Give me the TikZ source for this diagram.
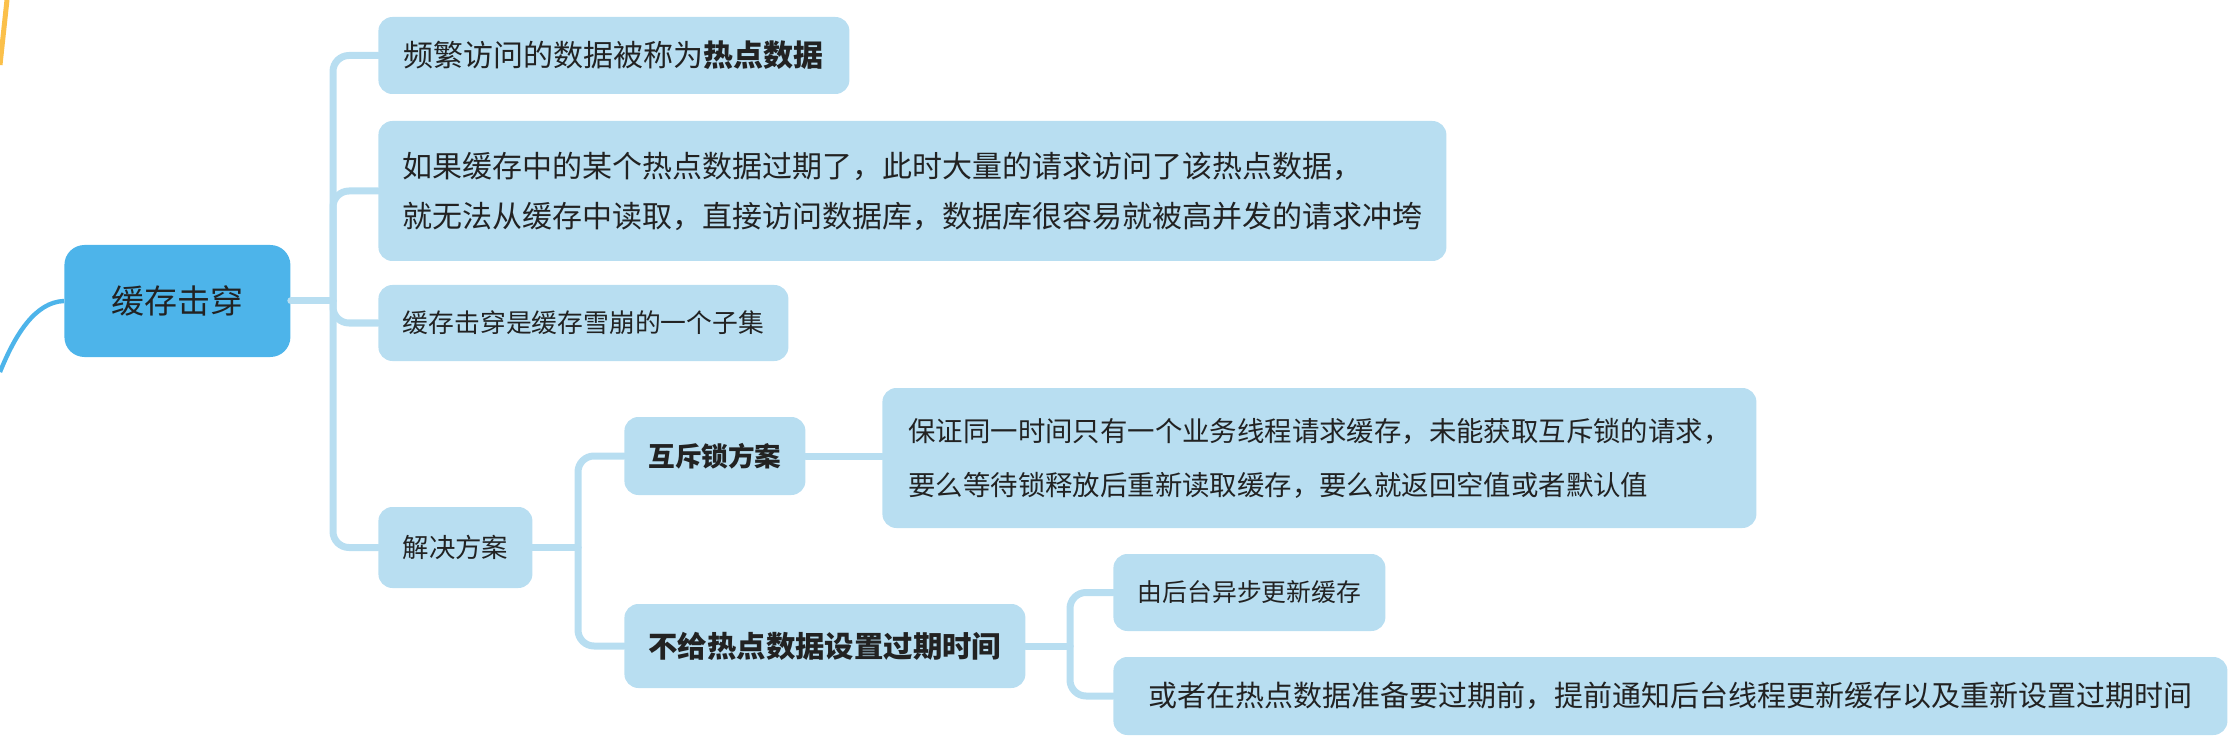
\documentclass[tikz,border=0pt]{standalone}
\usepackage{fontspec}
\setmainfont{Noto Sans CJK SC}
\definecolor{rootblue}{HTML}{4DB4EA}
\definecolor{leafblue}{HTML}{B8DEF1}
\definecolor{inkblack}{HTML}{222222}
\definecolor{sunyellow}{HTML}{FBC04A}
\newcommand{\fsz}[2]{\fontsize{#1}{#2}\selectfont}
\begin{document}
\begin{tikzpicture}[x=0.5pt,y=-0.5pt,
  topic/.style={rounded corners=7pt, fill=leafblue, text=inkblack,
    inner xsep=12pt, inner ysep=4pt, align=left, anchor=west},
  core/.style={topic, fill=rootblue, rounded corners=10pt, align=center},
  edge/.style={draw=leafblue, line width=3.5pt, rounded corners=8pt,
    line cap=round}]
\useasboundingbox (0,0) rectangle (2238,754);
% outer branches
\draw[sunyellow, line width=2.5pt] (7,0) -- (0,65);
\node[core, minimum width=113pt, minimum height=56pt, font=\fsz{16.5}{20}]
  (root) at (64,301) {缓存击穿};
\draw[rootblue, line width=2.2pt] (root.west) .. controls (35,302) and (15,335) .. (0,372);
% first level
\node[topic, minimum width=235.5pt, minimum height=38.5pt, font=\fsz{15}{20}]
  (hot) at (378,55.5) {频繁访问的数据被称为\textbf{热点数据}};
\node[topic, minimum width=528pt, minimum height=70pt, font=\fsz{15}{25}]
  (expire) at (378,191) {如果缓存中的某个热点数据过期了，此时大量的请求访问了该热点数据，\\
  就无法从缓存中读取，直接访问数据库，数据库很容易就被高并发的请求冲垮};
\node[topic, minimum width=205pt, minimum height=38pt, font=\fsz{12.9}{18}]
  (subset) at (378,323) {缓存击穿是缓存雪崩的一个子集};
\node[topic, minimum width=77pt, minimum height=40.5pt, font=\fsz{13.2}{18}]
  (plan) at (378,547.5) {解决方案};
% solutions
\node[topic, minimum width=85.5pt, minimum height=39pt, font=\fsz{13.3}{18}\bfseries]
  (mutex) at (624,456) {互斥锁方案};
\node[topic, minimum width=200.5pt, minimum height=42pt, font=\fsz{14.7}{18}\bfseries]
  (noexp) at (624,646) {不给热点数据设置过期时间};
\node[topic, minimum width=437pt, minimum height=70pt, font=\fsz{13.7}{27}]
  (mutexhow) at (882,458) {保证同一时间只有一个业务线程请求缓存，未能获取互斥锁的请求，\\
  要么等待锁释放后重新读取缓存，要么就返回空值或者默认值};
\node[topic, minimum width=136pt, minimum height=38.5pt, font=\fsz{12.4}{18}]
  (async) at (1113,592.5) {由后台异步更新缓存};
\node[topic, minimum width=557pt, minimum height=39pt, font=\fsz{14.5}{20}]
  (notify) at (1113,696) {或者在热点数据准备要过期前，提前通知后台线程更新缓存以及重新设置过期时间};
% connectors
\coordinate (hub) at (333,301);
\draw[edge] (root.east) -- (hub);
\foreach \leaf in {hot,expire,subset,plan}
  \draw[edge] (hub) |- (\leaf.west);
\coordinate (planhub) at (578,547.5);
\draw[edge] (plan.east) -- (planhub);
\foreach \leaf in {mutex,noexp}
  \draw[edge] (planhub) |- (\leaf.west);
\draw[edge] (mutex.east) -- (mutex.east -| mutexhow.west);
\coordinate (nohub) at (1070,646);
\draw[edge] (noexp.east) -- (nohub);
\foreach \leaf in {async,notify}
  \draw[edge] (nohub) |- (\leaf.west);
\end{tikzpicture}
\end{document}
